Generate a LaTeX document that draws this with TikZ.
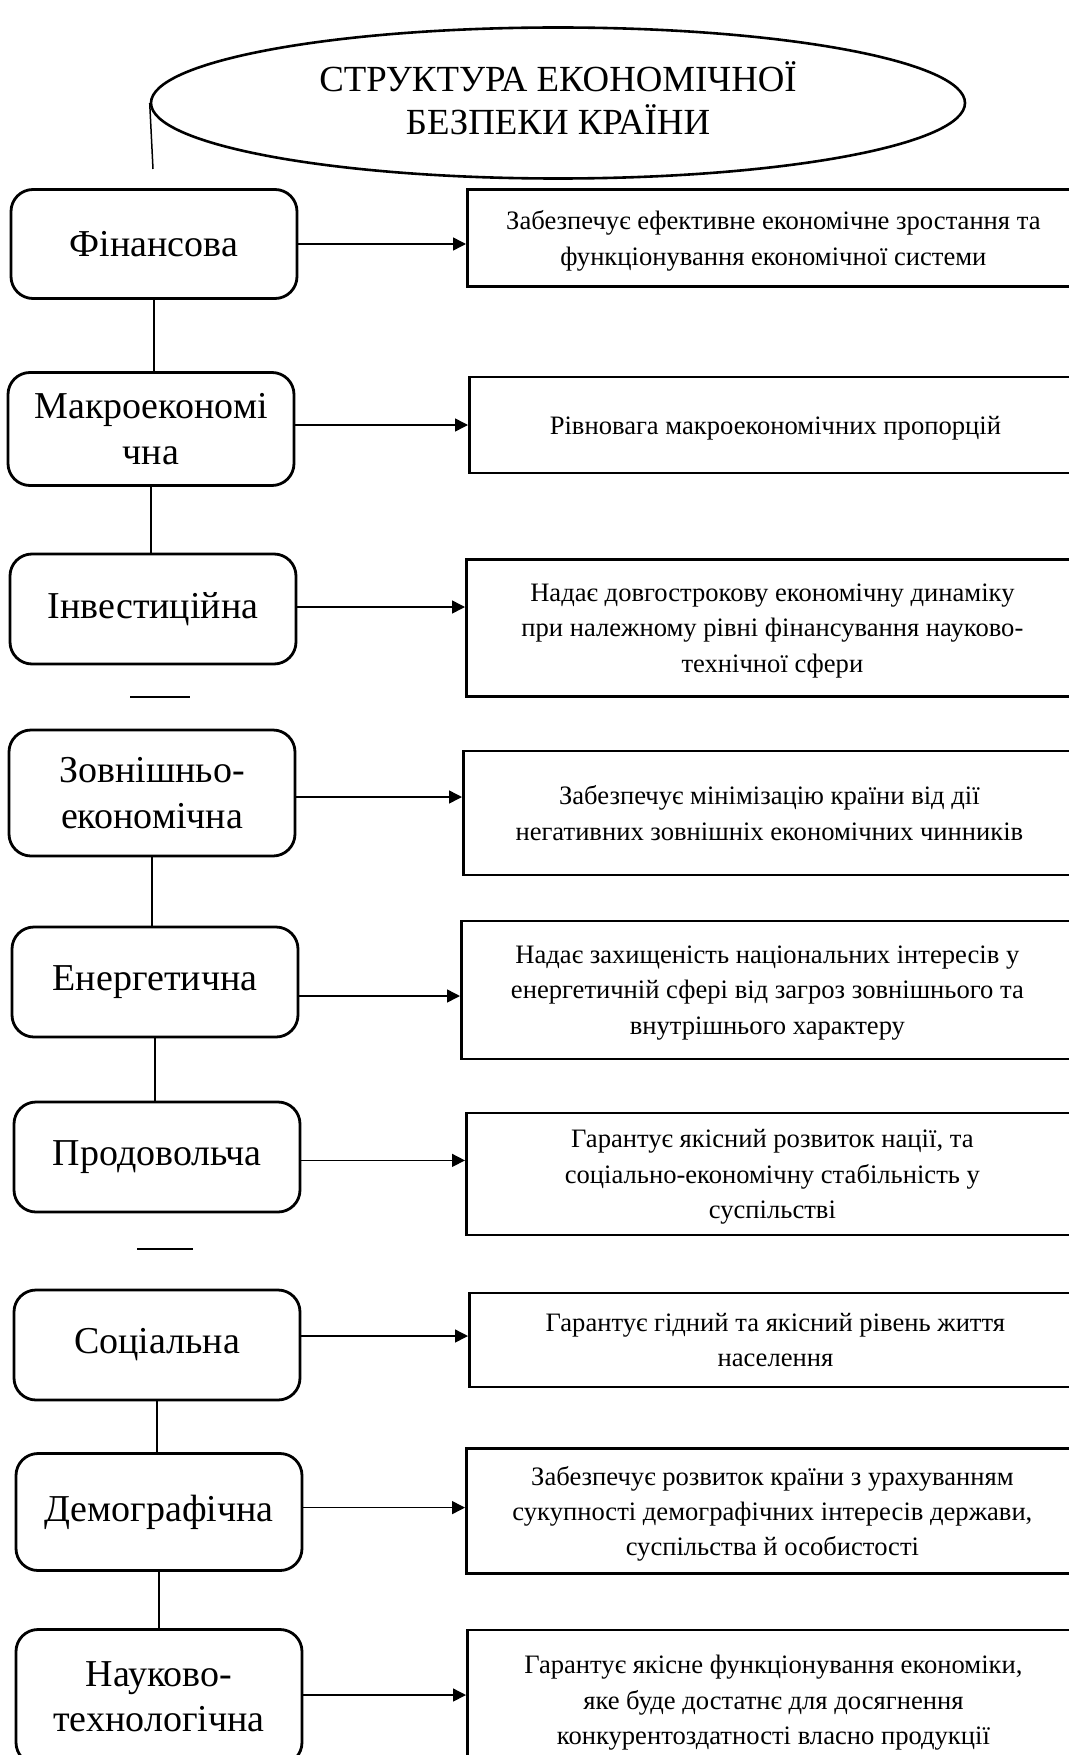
\documentclass[tikz,border=0pt]{standalone}
\usepackage{fontspec}
\setmainfont{Liberation Serif}
\usetikzlibrary{arrows.meta, shapes.geometric}

\begin{document}
\begin{tikzpicture}[
    x=0.5pt, y=-0.5pt,
    sfera/.style={draw, line width=1.4pt, rounded corners=11pt, minimum width=143pt,
        inner sep=2pt, align=center, font=\fontsize{19}{22.6}\selectfont},
    opys/.style={draw, line width=1.4pt, anchor=west, minimum width=306pt,
        inner sep=2pt, align=center, text depth=-3.5pt,
        font=\fontsize{13.3}{17.7}\selectfont},
    link/.style={draw, line width=0.75pt},
    arrow/.style={link, -{Triangle[length=6.5pt, width=6.5pt]}}
]

% ==========================================================
% Koordinaten in Pixeln des Originals (1069 x 1755)
% Beschreibungskaesten laufen ueber den rechten Rand hinaus
% ==========================================================
\useasboundingbox (0,0) rectangle (1069,1755);
\clip (0,0) rectangle (1069,1755);

% ----------------------------------------------------------
% Titel (Ellipse)
% ----------------------------------------------------------
\node[draw, ellipse, line width=1.3pt, minimum width=407pt, minimum height=75.5pt,
    inner sep=0pt, align=center, text depth=5pt, font=\fontsize{18.4}{21.1}\selectfont]
    (title) at (558,103) {СТРУКТУРА ЕКОНОМІЧНОЇ\\БЕЗПЕКИ КРАЇНИ};
\coordinate (title_end) at (153,169);
\draw[link] (title.west) -- (title_end);

% ----------------------------------------------------------
% Bestandteile (links) und Beschreibungen (rechts)
% ----------------------------------------------------------
\node[sfera, minimum height=54.5pt] (fin) at (154,244) {Фінансова};
\node[opys, minimum height=48.5pt] (fin_text) at (466,238)
    {Забезпечує ефективне економічне зростання та\\функціонування економічної системи};

\node[sfera, minimum height=56.5pt, text depth=0pt] (makro) at (151,429) {Макроекономі\\чна};
\node[opys, minimum height=48pt] (makro_text) at (468,425)
    {Рівновага макроекономічних пропорцій};

\node[sfera, minimum height=55pt] (invest) at (153,609) {Інвестиційна};
\node[opys, minimum height=68.5pt] (invest_text) at (465,628)
    {Надає довгострокову економічну динаміку\\при належному рівні фінансування науково-\\технічної сфери};

\node[sfera, minimum height=63pt] (zovn) at (152,793) {Зовнішньо-\\економічна};
\node[opys, minimum height=62pt] (zovn_text) at (462,813)
    {Забезпечує мінімізацію країни від дії\\негативних зовнішніх економічних чинників};

\node[sfera, minimum height=55pt] (energ) at (155,982) {Енергетична};
\node[opys, minimum height=69pt] (energ_text) at (460,990)
    {Надає захищеність національних інтересів у\\енергетичній сфері від загроз зовнішнього та\\внутрішнього характеру};

\node[sfera, minimum height=55pt] (prod) at (157,1157) {Продовольча};
\node[opys, minimum height=61pt] (prod_text) at (465,1174)
    {Гарантує якісний розвиток нації, та\\соціально-економічну стабільність у\\суспільстві};

\node[sfera, minimum height=55pt] (soc) at (157,1345) {Соціальна};
\node[opys, minimum height=47pt] (soc_text) at (468,1340)
    {Гарантує гідний та якісний рівень життя\\населення};

\node[sfera, minimum height=58.5pt] (demo) at (159,1512) {Демографічна};
\node[opys, minimum height=62.5pt] (demo_text) at (465,1511)
    {Забезпечує розвиток країни з урахуванням\\сукупності демографічних інтересів держави,\\суспільства й особистості};

\node[sfera, minimum height=67.5pt] (nauk) at (159,1697) {Науково-\\технологічна};
\node[opys, minimum height=70pt] (nauk_text) at (466,1700)
    {Гарантує якісне функціонування економіки,\\яке буде достатнє для досягнення\\конкурентоздатності власно продукції};

% ----------------------------------------------------------
% Pfeile (Hoehe je Zeile leicht versetzt) und Verbindungslinien
% ----------------------------------------------------------
\foreach \n/\dy in {fin/0, makro/2, invest/1, zovn/-2, energ/-7,
                    prod/-1.7, soc/4.5, demo/2.2, nauk/1} {
    \draw[arrow] ([yshift=\dy pt]\n.east) -- ([yshift=\dy pt]\n.east -| \n_text.west);
}

\foreach \a/\b in {fin/makro, makro/invest, zovn/energ, energ/prod, soc/demo, demo/nauk} {
    \draw[link] (\a.south) -- (\a.south |- \b.north);
}

% kurze waagrechte Striche zwischen den Gruppen
\draw[link] (130,697) -- (190,697);
\draw[link] (137,1249) -- (193,1249);

\end{tikzpicture}
\end{document}
